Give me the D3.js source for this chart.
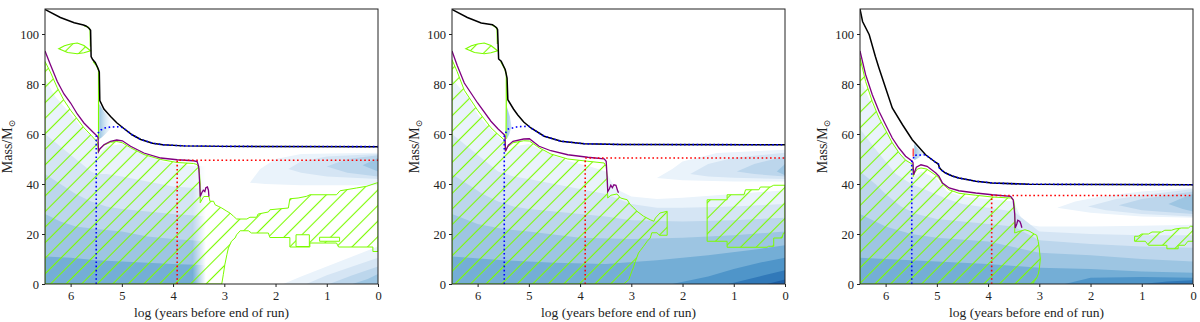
<!DOCTYPE html>
<html><head><meta charset="utf-8">
<script src="https://cdn.jsdelivr.net/npm/d3@7"></script>
<style>body{margin:0;background:#fff}</style>
</head><body><svg id="c" width="1200" height="322"></svg>
<script>
// ---------- axis ticks ----------
const tickX = [6,5,4,3,2,1,0];
const tickY = [0,20,40,60,80,100];
const xLabel = "log (years before end of run)";

// ---------- panel 1 ----------
const p1Total = [[6.5,109.8],[6.2,106.6],[5.93,104.5],[5.75,103.6],[5.7,103.2],[5.64,102.3],[5.61,101.5],[5.6,91],[5.57,89.8],[5.52,88.6],[5.47,86.5],[5.44,84.8],[5.43,73.4],[5.35,70],[5.22,67],[5.1,64.5],[4.96,62.2],[4.8,59.7],[4.63,57.8],[4.4,56.3],[4.2,55.7],[3.8,55.25],[3.0,55.05],[0,54.95]];
const p1Purple = [[6.5,93.2],[6.4,88],[6.26,81],[6.13,76],[6.0,72.4],[5.87,68],[5.74,64.4],[5.6,61.5],[5.48,59.1],[5.465,58.5],[5.455,53],[5.43,54],[5.35,55.7],[5.22,57.1],[5.1,57.6],[4.99,57.3],[4.83,55.1],[4.57,52.4],[4.24,50.4],[3.92,49.7],[3.6,49.3],[3.53,49.0],[3.5,47],[3.48,40],[3.47,35],[3.44,36.5],[3.41,37.5],[3.38,37],[3.36,38.5],[3.33,38.8],[3.31,37.5],[3.3,35]];
const p1Conv = [[6.5,0],[6.5,89],[6.4,85],[6.26,78.5],[6.13,73.5],[6.0,69.5],[5.87,66],[5.74,62.5],[5.6,59.5],[5.5,57.2],[5.47,56.5],[5.46,52.5],[5.43,54],[5.35,55.5],[5.22,56.7],[5.1,57],[4.99,56.5],[4.83,54.5],[4.57,51.8],[4.24,49.8],[3.92,48.6],[3.6,48.2],[3.53,47.8],[3.49,46],[3.47,40],[3.47,32.5],[3.43,34],[3.40,35],[3.3,35],[3.28,33.1],[3.21,33.1],[3.18,31.7],[3.12,31.1],[3.05,30.4],[2.95,29.1],[2.89,28.4],[2.82,27.1],[2.76,26.0],[2.56,26.0],[2.50,26.7],[2.37,26.7],[2.34,28.0],[2.14,28.8],[2.11,29.7],[1.75,30.4],[1.72,34.1],[1.56,34.4],[1.39,35.1],[1.33,35.7],[0.81,35.7],[0.74,37.3],[0.42,38.4],[0.22,39.1],[0.03,40.4],[0,40.5],[0,13],[0.1,13],[0.1,14.8],[0.77,14.8],[0.81,16.4],[1.33,16.4],[1.33,14.8],[1.72,14.8],[1.72,18.6],[2.11,18.6],[2.14,20.4],[2.47,20.4],[2.53,21.3],[2.69,21.3],[2.76,19.7],[2.79,18.4],[2.86,17.1],[2.92,14.4],[2.95,11.7],[2.99,7.7],[3.02,3.7],[3.05,0]];
const p1Holes = [[[1.60,15.0],[1.34,15.0],[1.34,19.7],[1.60,19.7]],[[1.14,17.1],[0.75,17.1],[0.75,18.7],[1.14,18.7]]];
const p1Eye = [[6.23,94.1],[6.12,95.3],[6.0,96],[5.87,96.4],[5.74,95.4],[5.61,93.3],[5.74,92.5],[5.87,92.1],[6.06,92.6]];
const p1Env = [[[5.74,103.3],[5.66,102.8],[5.62,101.5],[5.615,95]],[[5.56,89],[5.5,87.5],[5.455,85.5],[5.455,73],[5.455,57.5]]];
const p1BlueStart = [[5.5,0],[5.5,59],[5.46,60.5],[5.41,61.6],[5.33,62.4],[5.22,62.8],[5.02,62.9]];
const p1Red = [[3.92,0],[3.92,49.5],[0,49.5]];
const p1Cloud = [[5.44,58],[5.44,72],[5.35,69],[5.22,66],[5.1,63.5],[5.2,62.5],[5.32,60],[5.4,58.5]];
const p1Bands = [
  [[6.5,82],[6.3,75],[6.0,68],[5.8,63],[5.6,59],[5.5,57],[5.45,52],[5.3,55],[5.0,56],[4.6,52],[4.2,49],[3.8,47.5],[3.3,47]],
  [[6.5,60],[6.2,55],[5.9,50],[5.6,45],[5.5,44],[5.3,44],[5.0,43],[4.5,41],[4.0,39],[3.3,38]],
  [[6.5,44],[6.2,40],[5.9,36],[5.6,33],[5.3,31],[5.0,30],[4.5,29],[4.0,28],[3.3,27]],
  [[6.5,28],[6.2,25],[5.9,23],[5.5,22],[5.0,21],[4.5,19],[4.0,18],[3.3,17]],
  [[6.5,11],[6.0,10.5],[5.5,9.5],[5.0,9],[4.5,8.5],[4.0,8],[3.3,7.5]]
];
const p1Corner = [
  [[1.85,0],[1.5,3],[1.0,7],[0.5,11],[0,15]],
  [[1.4,0],[1.0,3.5],[0.5,7],[0,10.5]],
  [[0.95,0],[0.5,3.5],[0,7]],
  [[0.5,0],[0.2,2],[0,4]]
];
const p1Tongues = [
  [[2.5,40.5],[2.3,46],[2.0,50],[1.5,52],[0,52.5],[0,39.5],[1.5,39.5],[2.2,40]],
  [[1.75,46],[1.5,49],[1.0,51],[0,52],[0,42],[1.0,43],[1.5,44.5]],
  [[1.0,47],[0.6,50],[0,51.5],[0,43],[0.6,44.5]],
  [[0.3,47.5],[0,50.5],[0,45]]
];

// ---------- panel 2 ----------
const p2Total = [[6.5,109.8],[6.2,106.6],[5.93,104.4],[5.71,103.7],[5.63,102.5],[5.61,101.7],[5.59,90],[5.54,89.1],[5.46,85.7],[5.425,82.4],[5.41,73.7],[5.3,70],[5.22,67.7],[5.1,64.8],[4.96,62.4],[4.7,59.1],[4.37,57.1],[3.92,56.1],[3.2,55.8],[0,55.7]];
const p2Purple = [[6.5,93.2],[6.4,87.5],[6.26,80.4],[6.0,72.4],[5.74,65.1],[5.6,62],[5.48,59.7],[5.465,59],[5.455,53.1],[5.4,55.5],[5.31,57.1],[5.1,58],[4.99,58.1],[4.8,55.1],[4.57,53.3],[4.24,51.7],[3.85,50.7],[3.53,50.1],[3.49,49.1],[3.47,42],[3.46,37],[3.43,38],[3.40,39.5],[3.37,38.5],[3.34,39.7],[3.30,39.5],[3.27,37.5],[3.25,36.5]];
const p2Conv = [[6.5,0],[6.5,89.7],[6.4,85],[6.26,77.5],[6.0,69.5],[5.74,62.5],[5.6,59.8],[5.5,58],[5.47,57.5],[5.46,53],[5.43,54.5],[5.31,56.5],[5.1,57.3],[4.99,57.2],[4.8,54.5],[4.57,52],[4.24,50],[3.85,49.1],[3.53,48.4],[3.49,47],[3.47,42],[3.46,34.4],[3.40,35.5],[3.28,36],[3.21,34.4],[3.08,33.7],[3.02,31.7],[2.95,30.4],[2.89,29.1],[2.76,27.1],[2.63,25.7],[2.56,25.1],[2.53,26.4],[2.44,28.4],[2.30,29.1],[2.30,19.5],[2.45,19.5],[2.5,20.5],[2.6,20.5],[2.63,18.4],[2.69,17.1],[2.76,15.1],[2.82,13.5],[2.86,12.4],[2.92,9.1],[2.96,6.5],[2.99,5.1],[3.05,1.7],[3.15,0]];
const p2Shell = [[1.52,33.7],[1.13,33.7],[1.13,35.7],[0.8,35.7],[0.77,37.7],[0.51,37.7],[0.48,38.8],[0.29,38.8],[0.22,39.5],[0,39.5],[0,20.4],[0.03,20.4],[0.06,18.4],[0.22,18.4],[0.22,15.1],[0.32,15.1],[0.35,14.7],[1.13,14.7],[1.13,17.1],[1.52,17.1]];
const p2Eye = [[6.23,94.1],[6.12,95.3],[6.0,96],[5.87,96.4],[5.74,95.4],[5.61,93.3],[5.74,92.5],[5.87,92.1],[6.06,92.6]];
const p2Env = [[[5.72,103.5],[5.66,103],[5.62,102],[5.615,96]],[[5.55,89],[5.47,86],[5.44,84],[5.44,74],[5.445,58]]];
const p2BlueStart = [[5.48,0],[5.48,59.1],[5.44,61],[5.4,62],[5.22,62.9],[5.0,63.1]];
const p2Red = [[3.9,0],[3.9,50.4],[0,50.4]];
const p2Cloud = [[5.43,58],[5.43,71],[5.37,67],[5.34,63],[5.38,60]];
const p2Bands = [
  [[6.5,82],[6.2,75],[6.0,68],[5.8,63],[5.6,59],[5.5,57],[5.45,52],[5.3,55],[5.0,56],[4.6,52],[4.2,49],[3.8,47],[3.5,45],[3.3,38],[3.0,35],[2.5,34],[2.0,34.5],[1.0,36],[0,37.5]],
  [[6.5,60],[6.2,55],[5.9,50],[5.6,45],[5.3,43],[5.0,42],[4.5,40],[4.0,38],[3.5,36],[3.0,32],[2.5,30.5],[2.0,30.5],[1.0,31],[0,32]],
  [[6.5,44],[6.2,40],[5.9,36],[5.6,33],[5.3,31],[5.0,30],[4.5,29],[4.0,28],[3.5,27],[3.0,25.5],[2.0,25],[1.0,25.5],[0,26.5]],
  [[6.5,28],[6.0,24],[5.5,22],[5.0,21],[4.0,18.5],[3.0,18],[2.0,18.5],[1.0,19.5],[0,21]],
  [[6.5,11],[5.5,9.5],[4.5,8.5],[3.5,8],[2.5,9.5],[1.5,11.5],[0.5,14],[0,15.5]],
  [[2.2,0],[1.5,3],[1.0,6],[0.5,8.5],[0,10.5]],
  [[1.1,0],[0.5,3],[0,5.5]],
  [[0.35,0],[0,1.8]]
];
const p2Tongues = [
  [[2.5,42.4],[2.2,46],[2.0,49],[1.33,52.4],[0,53.7],[0,41],[1.0,41],[2.0,41.5]],
  [[1.85,44],[1.5,48],[1.0,50.5],[0,52.5],[0,42],[1.0,42.5],[1.5,43]],
  [[0.94,45],[0.6,48],[0,51],[0,43],[0.6,44]],
  [[0.16,45],[0,48],[0,43.5]]
];

// ---------- panel 3 ----------
const p3Total = [[6.5,110],[6.45,105],[6.32,99.7],[6.2,91],[6.13,86.4],[6.0,78.4],[5.87,70.4],[5.67,63.7],[5.48,57.7],[5.22,51.7],[5.02,48.6],[4.97,48],[4.95,46.5],[4.9,45.4],[4.83,44.4],[4.7,43.2],[4.57,42.4],[4.24,41.1],[3.92,40.4],[3.2,39.9],[0,39.7]];
const p3Purple = [[6.5,93.2],[6.39,83.7],[6.26,75.7],[6.13,69.1],[6.0,63.7],[5.87,58.4],[5.74,54.4],[5.61,51.1],[5.48,49.1],[5.465,48.5],[5.455,43.7],[5.40,46.7],[5.31,47.7],[5.19,47.1],[5.02,44.4],[4.96,43.1],[4.89,40.4],[4.76,38.4],[4.57,37.3],[4.24,36.4],[3.92,35.7],[3.56,35.1],[3.51,33.7],[3.48,28],[3.47,22.4],[3.44,24],[3.42,25.5],[3.38,25],[3.36,24],[3.34,22.5]];
const p3Conv = [[6.5,0],[6.5,90.5],[6.39,81],[6.26,73],[6.13,66.5],[6.0,61.5],[5.87,56.5],[5.74,52.5],[5.61,49.5],[5.5,48.2],[5.47,47.8],[5.46,43],[5.43,44.5],[5.38,46],[5.31,46.4],[5.2,46],[5.02,43.5],[4.96,42.4],[4.89,40],[4.76,37.7],[4.57,36.3],[4.24,35.5],[3.92,34.8],[3.56,34.4],[3.5,33.5],[3.48,30],[3.48,20.4],[3.4,21],[3.28,21.7],[3.2,21.2],[3.1,20],[3.05,19.5],[3.02,17],[3.0,14],[2.98,10],[3.0,6],[3.02,4],[3.05,2.5],[3.1,1],[3.12,0]];
const p3Shell = [[1.14,19.1],[1.07,19.1],[1.0,20],[0.87,20],[0.8,20.8],[0.61,20.8],[0.55,21.5],[0.42,21.5],[0.35,22],[0.22,22.4],[0.09,22.4],[0.05,23.1],[0,23.1],[0,17.1],[0.1,17.1],[0.16,15.5],[0.29,15.5],[0.29,14.1],[0.51,14.1],[0.51,15.5],[0.87,15.5],[0.93,17.1],[1.14,17.1]];
const p3BlueStart = [[5.49,0],[5.49,49.1],[5.46,50.2],[5.44,51.5],[5.28,51.6]];
const p3Red = [[3.93,0],[3.93,35.4],[0,35.4]];
const p3RedTick = [[5.46,51],[5.46,54.2]];
const p3Cloud = [[5.44,49.5],[5.44,56],[5.36,54],[5.25,52],[5.35,50.5]];
const p3Bands = [
  [[6.5,82],[6.3,73],[6.1,66],[5.9,58],[5.7,52],[5.5,48],[5.45,43],[5.3,45],[5.0,42],[4.8,37],[4.5,35],[4.0,34],[3.5,33],[3.3,24],[3.0,23],[2.0,23],[1.0,23.3],[0,23.7]],
  [[6.5,62],[6.2,54],[6.0,49],[5.8,44],[5.5,40],[5.2,37.5],[4.8,34],[4.5,32],[4.0,30.5],[3.5,29],[3.0,21],[2.0,20],[1.0,19.5],[0,19.5]],
  [[6.5,45],[6.2,40],[6.0,36],[5.7,31],[5.4,28],[5.0,26],[4.5,25],[4.0,24],[3.5,23],[3.0,17.5],[2.0,16],[1.0,15],[0,14.5]],
  [[6.5,28],[6.2,25],[6.0,23],[5.5,20],[5.0,18.5],[4.0,17],[3.0,12.5],[2.0,11.5],[1.0,10],[0,9]],
  [[6.5,10.5],[6.0,10],[5.5,9.5],[5.0,9],[4.0,8],[3.0,6.5],[2.0,6],[1.0,5],[0,4.5]],
  [[2.5,0],[2.0,2.5],[1.0,2.8],[0,2.5]],
  [[1.0,0],[0.5,1],[0,1.5]]
];
const p3Tongues = [
  [[2.65,30.5],[2.3,33],[1.8,35],[1.0,37],[0,38.5],[0,26.5],[1.0,27],[2.0,28.5]],
  [[2.05,31],[1.5,34],[0.8,36],[0,38],[0,27],[1.0,28],[1.7,29.5]],
  [[1.45,31.5],[1.0,34],[0,37],[0,28],[1.0,29.5]],
  [[0.48,32],[0.2,34.5],[0,36],[0,29],[0.2,30]]
];

const blues = ['#eaf3fb','#d5e5f4','#bcd6ec','#9dc5e2','#74aed6','#4f95c9','#3179b9','#1c5fa6'];
const GREEN = '#7cfc00';

const panels = [
  {L:45,  total:p1Total, purple:p1Purple, conv:[p1Conv, ...p1Holes], eye:p1Eye, env:p1Env, blue:p1BlueStart, red:p1Red, cloud:p1Cloud, bands:p1Bands, corner:p1Corner, tongues:p1Tongues, tongueCols:[0,1,2,3], fade:true},
  {L:452, total:p2Total, purple:p2Purple, conv:[p2Conv], shells:[p2Shell], eye:p2Eye, env:p2Env, blue:p2BlueStart, red:p2Red, cloud:p2Cloud, bands:p2Bands, tongues:p2Tongues, tongueCols:[0,1,2,3]},
  {L:860, total:p3Total, purple:p3Purple, conv:[p3Conv], shells:[p3Shell], blue:p3BlueStart, red:p3Red, redTick:p3RedTick, cloud:p3Cloud, bands:p3Bands, tongues:p3Tongues, tongueCols:[0,1,2,3]}
];

const W = 333, TOP = 9, BOT = 284;
const svg = d3.select('#c');
svg.append('rect').attr('width',1200).attr('height',322).attr('fill','#fff');
const defs = svg.append('defs');
const pat = defs.append('pattern').attr('id','hatch').attr('patternUnits','userSpaceOnUse')
  .attr('width',11).attr('height',11).attr('patternTransform','rotate(45)');
pat.append('line').attr('x1',5.5).attr('y1',-1).attr('x2',5.5).attr('y2',12).attr('stroke',GREEN).attr('stroke-width',1.1);

const FONT = "'Liberation Serif','DejaVu Serif',serif";

panels.forEach((p,i)=>{
  const x = d3.scaleLinear().domain([6.5,0]).range([p.L, p.L+W]);
  const y = d3.scaleLinear().domain([0,110]).range([BOT, TOP]);
  const line = d3.line().x(d=>x(d[0])).y(d=>y(d[1]));
  const area = d3.area().x(d=>x(d[0])).y0(y(0)).y1(d=>y(d[1]));

  defs.append('clipPath').attr('id','clip'+i).append('rect')
    .attr('x',p.L).attr('y',TOP).attr('width',W).attr('height',BOT-TOP);
  const g = svg.append('g').attr('clip-path',`url(#clip${i})`);

  // background energy bands
  const bandG = g.append('g');
  if (p.fade) {
    const fg = defs.append('linearGradient').attr('id','fade'+i).attr('gradientUnits','userSpaceOnUse')
      .attr('x1',x(3.62)).attr('x2',x(3.36)).attr('y1',0).attr('y2',0);
    fg.append('stop').attr('offset',0).attr('stop-color','#fff');
    fg.append('stop').attr('offset',1).attr('stop-color','#000');
    const m = defs.append('mask').attr('id','mask'+i).attr('maskUnits','userSpaceOnUse')
      .attr('x',0).attr('y',0).attr('width',1200).attr('height',322);
    m.append('rect').attr('x',p.L).attr('y',0).attr('width',W).attr('height',322).attr('fill',`url(#fade${i})`);
    bandG.attr('mask',`url(#mask${i})`);
  }
  p.bands.forEach((b,k)=> bandG.append('path').attr('d',area(b)).attr('fill',blues[k]));
  if (p.corner) p.corner.forEach((b,k)=> g.append('path').attr('d',area(b)).attr('fill',blues[k]));
  p.tongues.forEach((t,k)=> g.append('path').attr('d',line(t)+'Z').attr('fill',blues[p.tongueCols[k]]));

  // cloud near hydrogen exhaustion
  const cg = defs.append('linearGradient').attr('id','cloud'+i).attr('gradientUnits','userSpaceOnUse')
    .attr('x1',x(5.45)).attr('x2',x(5.12)).attr('y1',0).attr('y2',0);
  cg.append('stop').attr('offset',0).attr('stop-color','#8fbfe0');
  cg.append('stop').attr('offset',1).attr('stop-color','#ffffff').attr('stop-opacity',0);
  g.append('path').attr('d',line(p.cloud)+'Z').attr('fill',`url(#cloud${i})`);

  // convective regions (hatched)
  const convD = p.conv.map(r=>line(r)+'Z').join('');
  g.append('path').attr('d',convD).attr('fill','url(#hatch)').attr('fill-rule','evenodd')
    .attr('stroke',GREEN).attr('stroke-width',1);
  (p.shells||[]).forEach(s=> g.append('path').attr('d',line(s)+'Z').attr('fill','url(#hatch)')
    .attr('stroke',GREEN).attr('stroke-width',1));
  if (p.eye) g.append('path').attr('d',line(p.eye)+'Z').attr('fill','url(#hatch)')
    .attr('stroke',GREEN).attr('stroke-width',1.2);
  (p.env||[]).forEach(e=> g.append('path').attr('d',line(e)).attr('fill','none')
    .attr('stroke',GREEN).attr('stroke-width',1.2));

  // lines
  g.append('path').attr('d',line(p.purple)).attr('fill','none').attr('stroke','#800080').attr('stroke-width',1.3);
  g.append('path').attr('d',line(p.total)).attr('fill','none').attr('stroke','#000').attr('stroke-width',1.5);
  const lastT = p.blue[p.blue.length-1][0];
  const bluePts = p.blue.concat(p.total.filter(d=>d[0] < lastT));
  g.append('path').attr('d',line(bluePts)).attr('fill','none').attr('stroke','#0000ff')
    .attr('stroke-width',1.6).attr('stroke-dasharray','1.6,2.6');
  g.append('path').attr('d',line(p.red)).attr('fill','none').attr('stroke','#ff0000')
    .attr('stroke-width',1.6).attr('stroke-dasharray','1.6,2.6');
  if (p.redTick) g.append('path').attr('d',line(p.redTick)).attr('fill','none').attr('stroke','#ff5050').attr('stroke-width',1.6);

  // frame
  svg.append('rect').attr('x',p.L).attr('y',TOP).attr('width',W).attr('height',BOT-TOP)
    .attr('fill','none').attr('stroke','#222').attr('stroke-width',1);

  // axes
  const ax = svg.append('g').attr('transform',`translate(0,${BOT})`)
    .call(d3.axisBottom(x).tickValues(tickX).tickSize(3).tickPadding(4).tickFormat(d3.format('d')));
  const ay = svg.append('g').attr('transform',`translate(${p.L},0)`)
    .call(d3.axisLeft(y).tickValues(tickY).tickSize(3).tickPadding(3).tickFormat(d3.format('d')));
  [ax,ay].forEach(a=>{
    a.select('.domain').remove();
    a.selectAll('text').attr('font-family',FONT).attr('font-size',12.5).attr('fill','#222');
    a.selectAll('line').attr('stroke','#222');
  });

  svg.append('text').attr('x',p.L+W/2).attr('y',317).attr('text-anchor','middle')
    .attr('font-family',FONT).attr('font-size',13.5).attr('fill','#222').text(xLabel);
  const yl = svg.append('text').attr('transform',`translate(${p.L-33},${(TOP+BOT)/2}) rotate(-90)`)
    .attr('text-anchor','middle').attr('font-family',FONT).attr('font-size',14).attr('fill','#222');
  yl.append('tspan').text('Mass/M');
  yl.append('tspan').attr('font-size',9).attr('dy',3).text('⊙');
});
</script></body></html>
